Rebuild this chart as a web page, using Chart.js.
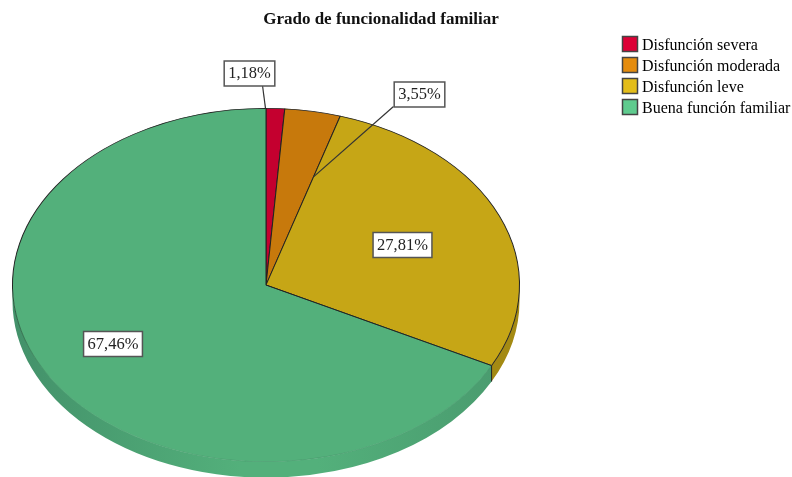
<!DOCTYPE html>
<html>
<head>
<meta charset="utf-8">
<style>html,body{margin:0;padding:0;background:#fff}canvas{display:block}</style>
<script src="https://cdn.jsdelivr.net/npm/chart.js@4"></script>
</head>
<body>
<canvas id="c" width="792" height="477"></canvas>
<script>
const categories = ['Disfunción severa','Disfunción moderada','Disfunción leve','Buena función familiar'];
const values = [1.18,3.55,27.81,67.46];
const faceColors = ['#C4002F','#C7790C','#C6A616','#53B07B'];
const legendColors = ['#DC0036','#E48C0E','#E3BD1A','#5FCB8E'];
const chartTitle = 'Grado de funcionalidad familiar';

const SERIF = '"Liberation Serif","Times New Roman",serif';
const SX = 254/177, DEPTH = 16;
const labelCentres = [[249.5,73.5],[419.5,94.5],[402.5,245],[113,344]];

const pie3d = {
  id:'pie3d',
  afterLayout(chart){
    const a = chart.chartArea;
    a.left = 0; a.right = 532; a.width = 532;
    const lg = chart.legend, w = lg.width;
    lg.left = 612; lg.right = 612 + w; lg.top = 33; lg.bottom = 33 + lg.height;
    const t = chart.titleBlock;
    t.left -= 15; t.right -= 15;
  },
  beforeDatasetsDraw(chart){
    const ctx = chart.ctx, arcs = chart.getDatasetMeta(0).data;
    const g = ctx.createLinearGradient(12,0,520,0);
    g.addColorStop(0,'#43916A'); g.addColorStop(.45,'#53B07B'); g.addColorStop(.6,'#53B07B'); g.addColorStop(.95,'#4A9C6F');
    const walls = [null,null,'#A48A13',g];
    arcs.forEach((e,i)=>{
      const a0 = Math.max(e.startAngle,0), a1 = Math.min(e.endAngle,Math.PI);
      if(a1<=a0 || !walls[i]) return;
      const rx = e.outerRadius*SX, ry = e.outerRadius;
      ctx.beginPath();
      ctx.ellipse(e.x,e.y,rx,ry,0,a0,a1);
      ctx.ellipse(e.x,e.y+DEPTH,rx,ry,0,a1,a0,true);
      ctx.closePath();
      ctx.fillStyle = walls[i];
      ctx.fill();
    });
    ctx.save();
    ctx.translate(arcs[0].x,0); ctx.scale(SX,1); ctx.translate(-arcs[0].x,0);
  },
  afterDatasetsDraw(chart){
    const ctx = chart.ctx, arcs = chart.getDatasetMeta(0).data;
    ctx.restore();
    const pt = (e,a,f)=>[e.x+Math.cos(a)*e.outerRadius*SX*f, e.y+Math.sin(a)*e.outerRadius*f];
    ctx.strokeStyle = '#222'; ctx.lineWidth = 1;
    // seam between the last two slices, face and side wall
    const seam = arcs[3], p = pt(seam,seam.startAngle,1);
    ctx.beginPath();
    ctx.moveTo(seam.x,seam.y); ctx.lineTo(p[0],p[1]); ctx.lineTo(p[0],p[1]+DEPTH);
    ctx.stroke();
    // leader lines
    ctx.strokeStyle = '#333'; ctx.lineWidth = 1.2;
    const a0 = pt(arcs[0],arcs[0].startAngle,1);
    ctx.beginPath(); ctx.moveTo(a0[0]-0.5,a0[1]); ctx.lineTo(labelCentres[0][0]+13,labelCentres[0][1]+12); ctx.stroke();
    const a1 = pt(arcs[1],arcs[1].endAngle,0.64);
    ctx.beginPath(); ctx.moveTo(a1[0],a1[1]); ctx.lineTo(labelCentres[1][0]-26,labelCentres[1][1]+12); ctx.stroke();
    // value boxes
    ctx.font = '16.5px '+SERIF;
    ctx.textAlign = 'center'; ctx.textBaseline = 'middle';
    values.forEach((v,i)=>{
      const s = v.toFixed(2).replace('.',',')+'%';
      const w = ctx.measureText(s).width+8, h = 25, [x,y] = labelCentres[i];
      ctx.fillStyle = '#fff'; ctx.strokeStyle = '#555'; ctx.lineWidth = 1.5;
      ctx.fillRect(x-w/2,y-h/2,w,h); ctx.strokeRect(x-w/2,y-h/2,w,h);
      ctx.fillStyle = '#222'; ctx.fillText(s,x,y+0.5);
    });
  },
  afterDraw(chart){
    // legend swatches: narrower than the legend's own key slot, text sits close to them
    const ctx = chart.ctx, lg = chart.legend;
    legendColors.forEach((c,i)=>{
      const x = lg.left+10.5, y = lg.top+3.5+i*21;
      ctx.fillStyle = c; ctx.strokeStyle = '#444'; ctx.lineWidth = 1.5;
      ctx.fillRect(x,y,15,15); ctx.strokeRect(x,y,15,15);
    });
  }
};

let greenEdge;
new Chart(document.getElementById('c'),{
  type:'pie',
  data:{labels:categories,datasets:[{
    data:values,
    backgroundColor:faceColors,
    borderWidth:0.7,
    clip:false,
    borderAlign:'center',
    borderColor(c){
      if(c.dataIndex!==3) return '#222';
      if(!greenEdge){
        greenEdge = c.chart.ctx.createLinearGradient(0,285,0,380);
        greenEdge.addColorStop(0,'#222'); greenEdge.addColorStop(.2,'#2c5a40'); greenEdge.addColorStop(1,'#4A9F70');
      }
      return greenEdge;
    }
  }]},
  plugins:[pie3d],
  options:{
    responsive:false,
    animation:false,
    rotation:0,
    layout:{padding:{left:0,right:0,top:0,bottom:15}},
    plugins:{
      tooltip:{enabled:false},
      title:{display:true,text:chartTitle,color:'#111',
        font:{family:SERIF,size:17,weight:'bold',lineHeight:1.2},
        padding:{top:9,bottom:78.6}},
      legend:{position:'right',align:'start',
        labels:{
          boxWidth:17,boxHeight:16,padding:5,color:'#222',
          font:{family:SERIF,size:16},
          generateLabels(){return categories.map((t,i)=>({text:t,fillStyle:'rgba(0,0,0,0)',strokeStyle:'rgba(0,0,0,0)',lineWidth:0,index:i}));}
        }
      }
    }
  }
});
</script>
</body>
</html>
